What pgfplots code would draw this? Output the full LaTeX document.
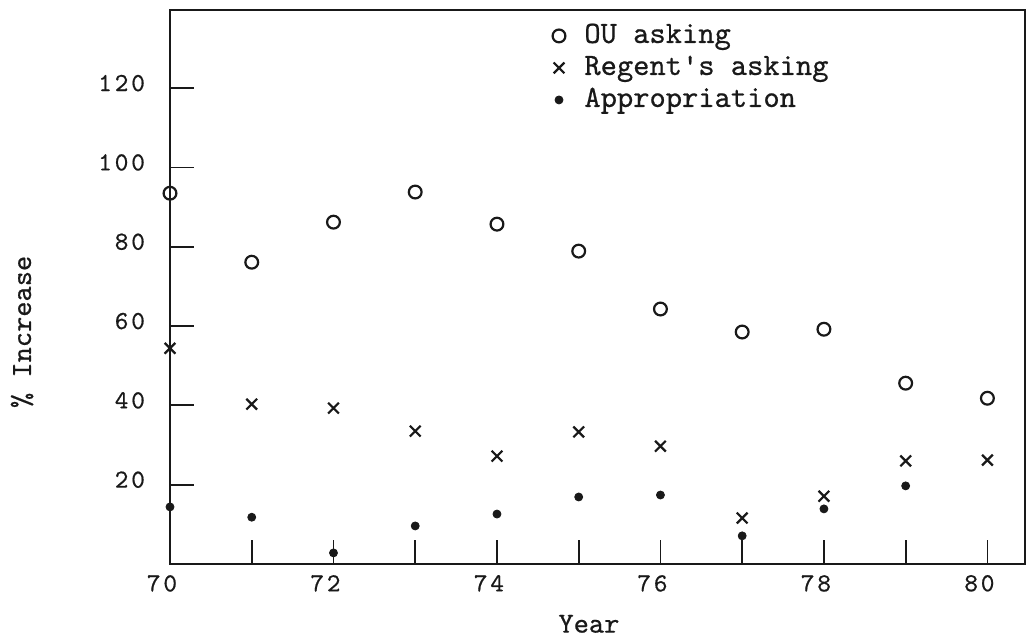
\documentclass[border=0pt]{standalone}
\usepackage{fontspec}
\newfontfamily\typer{lmmono10-regular.otf}[FakeBold=0.6]
\newfontfamily\tickfont{lmmono10-regular.otf}[LetterSpace=11,FakeBold=0.6]
\usepackage{pgfplots}
\pgfplotsset{compat=1.18}
\definecolor{ink}{gray}{0.1}
\begin{document}
\begin{tikzpicture}
\path[use as bounding box] (-85pt,-37pt) rectangle (428pt,282pt);
\begin{axis}[
  at={(0,0)}, anchor=south west, scale only axis,
  width=427.5pt, height=277pt,
  xmin=70, xmax=80.46, ymin=0, ymax=139.7,
  clip=false,
  axis line style={line width=0.9pt, ink},
  xtick={70,...,80}, xticklabels={70,,72,,74,,76,,78,,80},
  ytick={20,40,...,120},
  xtick pos=bottom, ytick pos=left,
  tick align=inside, major tick length=12pt,
  tick style={line width=0.9pt, ink},
  /pgf/number format/assume math mode=true,
  ticklabel style={font=\tickfont\fontsize{13}{15}\selectfont, text=ink},
  xticklabel style={xshift=-4pt, yshift=-2pt},
  yticklabel style={xshift=-9pt, yshift=2.5pt},
  xlabel={Year}, ylabel={\% Increase},
  xlabel style={at={(axis description cs:0.49,-0.108)}, anchor=center, font=\typer\fontsize{14.5}{16}\selectfont, text=ink},
  ylabel style={at={(axis description cs:-0.173,0.419)}, anchor=center, font=\typer\fontsize{14.5}{16}\selectfont, text=ink},
  legend style={at={(rel axis cs:0.44,0.99)}, anchor=north west, draw=none, fill=none,
    font=\typer\fontsize{15.5}{16}\selectfont, text=ink,
    nodes={inner sep=1.5pt, text height=10pt, text depth=3pt},
    /tikz/every odd column/.append style={column sep=8pt}},
  legend cell align=left,
  legend image code/.code={\draw[#1] plot coordinates {(0pt,0pt)};},
]
\addplot[only marks, mark=o, mark size=3.2pt, mark options={line width=1.1pt, draw=ink}] coordinates {
  (70,93.5) (71,76.1) (72,86.2) (73,93.8) (74,85.7) (75,78.9) (76,64.3) (77,58.5) (78,59.2) (79,45.6) (80,41.8)};
\addlegendentry{OU asking}
\addplot[only marks, mark=x, mark size=3.8pt, mark options={line width=1.1pt, draw=ink}] coordinates {
  (70,54.4) (71,40.3) (72,39.3) (73,33.5) (74,27.2) (75,33.3) (76,29.7) (77,11.6) (78,17.1) (79,26.0) (80,26.2)};
\addlegendentry{Regent's asking}
\addplot[only marks, mark=*, mark size=2pt, mark options={draw=ink, fill=ink}] coordinates {
  (70,14.4) (71,11.8) (72,2.8) (73,9.6) (74,12.6) (75,16.9) (76,17.4) (77,7.1) (78,13.9) (79,19.7)};
\addlegendentry{Appropriation}
\end{axis}
\end{tikzpicture}
\end{document}
